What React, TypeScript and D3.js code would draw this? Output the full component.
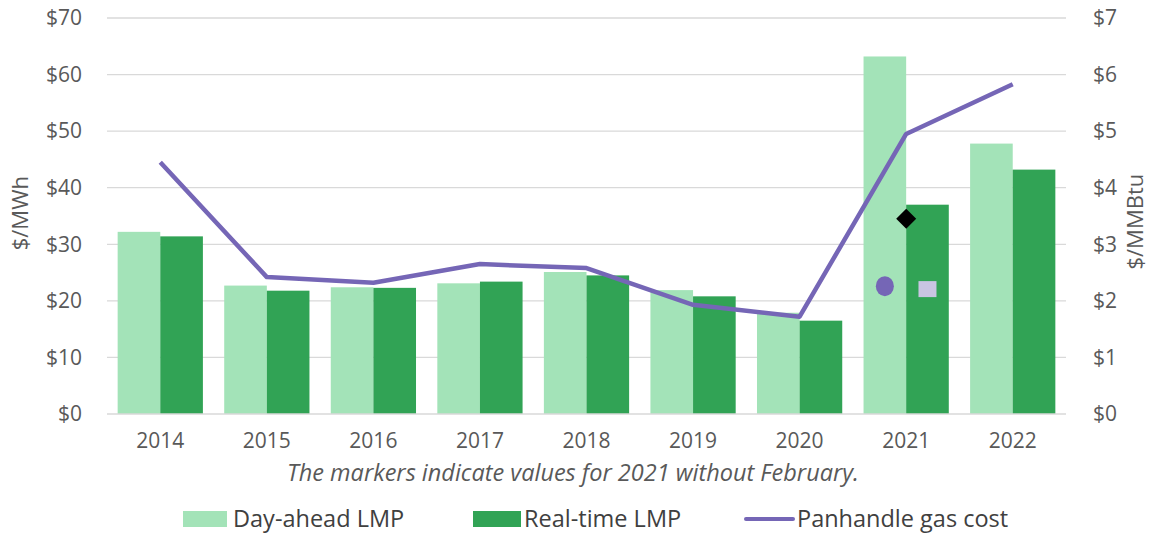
import React, { useEffect, useRef } from 'react';
import * as d3 from 'd3';

const years = ['2014', '2015', '2016', '2017', '2018', '2019', '2020', '2021', '2022'];
const dayAhead = [32.2, 22.7, 22.4, 23.1, 25.1, 21.9, 17.9, 63.2, 47.8];
const realTime = [31.4, 21.8, 22.3, 23.4, 24.5, 20.8, 16.5, 37.0, 43.2];
const gasCost = [4.45, 2.42, 2.32, 2.65, 2.58, 1.93, 1.72, 4.95, 5.83];

// 2021 values without February
const markerYear = '2021';
const dayAheadNoFeb = 22.6;
const realTimeNoFeb = 21.9;
const gasNoFeb = 3.45;

const leftTicks = [0, 10, 20, 30, 40, 50, 60, 70];
const rightTicks = [0, 1, 2, 3, 4, 5, 6, 7];

const W = 1155;
const H = 535;
const margin = { top: 18, right: 89, bottom: 121, left: 107 };
const FONT = '"Open Sans", "Noto Sans", sans-serif';

const App = () => {
  const svgRef = useRef<SVGSVGElement>(null);

  useEffect(() => {
    const svg = d3.select(svgRef.current);
    svg.selectAll('*').remove();

    const innerW = W - margin.left - margin.right;
    const innerH = H - margin.top - margin.bottom;

    const x = d3.scaleBand().domain(years).range([0, innerW]).paddingInner(0.2).paddingOuter(0.1);
    const sub = d3.scaleBand().domain(['da', 'rt']).range([0, x.bandwidth()]);
    const yL = d3.scaleLinear().domain([0, 70]).range([innerH, 0]);
    const yR = d3.scaleLinear().domain([0, 7]).range([innerH, 0]);

    const g = svg.append('g').attr('transform', `translate(${margin.left},${margin.top})`);

    // gridlines
    g.selectAll('.grid')
      .data(leftTicks.slice(1))
      .join('line')
      .attr('x1', 0)
      .attr('x2', innerW)
      .attr('y1', d => yL(d))
      .attr('y2', d => yL(d))
      .attr('stroke', '#d9d9d9')
      .attr('stroke-width', 1.3);

    // bars
    g.selectAll('.da')
      .data(years)
      .join('rect')
      .attr('x', d => x(d)! + sub('da')!)
      .attr('y', (d, i) => yL(dayAhead[i]))
      .attr('width', sub.bandwidth())
      .attr('height', (d, i) => innerH - yL(dayAhead[i]))
      .attr('fill', '#a3e3b8');

    g.selectAll('.rt')
      .data(years)
      .join('rect')
      .attr('x', d => x(d)! + sub('rt')!)
      .attr('y', (d, i) => yL(realTime[i]))
      .attr('width', sub.bandwidth())
      .attr('height', (d, i) => innerH - yL(realTime[i]))
      .attr('fill', '#31a355');

    // baseline
    g.append('line')
      .attr('x1', 0)
      .attr('x2', innerW)
      .attr('y1', innerH)
      .attr('y2', innerH)
      .attr('stroke', '#d9d9d9')
      .attr('stroke-width', 1.5);

    // gas line
    const line = d3.line<number>()
      .x((d, i) => x(years[i])! + x.bandwidth() / 2)
      .y(d => yR(d));
    g.append('path')
      .datum(gasCost)
      .attr('d', line)
      .attr('fill', 'none')
      .attr('stroke', '#7566b6')
      .attr('stroke-width', 4.5)
      .attr('stroke-linejoin', 'round');

    // 2021 markers
    const mx = x(markerYear)!;
    g.append('ellipse')
      .attr('cx', mx + sub('da')! + sub.bandwidth() / 2)
      .attr('cy', yL(dayAheadNoFeb))
      .attr('rx', 9)
      .attr('ry', 10)
      .attr('fill', '#7566b6');
    g.append('rect')
      .attr('x', mx + sub('rt')! + sub.bandwidth() / 2 - 9)
      .attr('y', yL(realTimeNoFeb) - 9)
      .attr('width', 18)
      .attr('height', 16)
      .attr('fill', '#c9c5e2');
    const dx = mx + x.bandwidth() / 2;
    const dy = yR(gasNoFeb);
    g.append('path')
      .attr('d', `M${dx},${dy - 10}L${dx + 10},${dy}L${dx},${dy + 10}L${dx - 10},${dy}Z`)
      .attr('fill', '#000');

    // axes labels
    const textStyle = (size: number) => (sel: any) =>
      sel.attr('font-family', FONT).attr('font-size', size).attr('fill', '#595959');

    g.selectAll('.lt')
      .data(leftTicks)
      .join('text')
      .attr('x', -25)
      .attr('y', d => yL(d))
      .attr('dy', '0.35em')
      .attr('text-anchor', 'end')
      .text(d => `$${d}`)
      .call(textStyle(21));

    g.selectAll('.rtk')
      .data(rightTicks)
      .join('text')
      .attr('x', innerW + 27)
      .attr('y', d => yR(d))
      .attr('dy', '0.35em')
      .attr('text-anchor', 'start')
      .text(d => `$${d}`)
      .call(textStyle(21));

    g.selectAll('.xt')
      .data(years)
      .join('text')
      .attr('x', d => x(d)! + x.bandwidth() / 2)
      .attr('y', innerH + 27)
      .attr('dy', '0.35em')
      .attr('text-anchor', 'middle')
      .text(d => d)
      .call(textStyle(21));

    svg.append('text')
      .attr('transform', `translate(28,${margin.top + yL(35.5)}) rotate(-90)`)
      .attr('text-anchor', 'middle')
      .text('$/MWh')
      .call(textStyle(22));

    svg.append('text')
      .attr('transform', `translate(1143,${margin.top + yR(3.4)}) rotate(-90)`)
      .attr('text-anchor', 'middle')
      .text('$/MMBtu')
      .call(textStyle(22));

    svg.append('text')
      .attr('x', 573)
      .attr('y', 481)
      .attr('text-anchor', 'middle')
      .attr('font-style', 'italic')
      .text('The markers indicate values for 2021 without February.')
      .call(textStyle(23.5));

    // legend
    const leg = svg.append('g').attr('font-family', FONT).attr('font-size', 23.5).attr('fill', '#404040');
    leg.append('rect').attr('x', 183).attr('y', 511).attr('width', 44).attr('height', 16).attr('fill', '#a3e3b8');
    leg.append('text').attr('x', 233).attr('y', 519).attr('dy', '0.35em').text('Day-ahead LMP');
    leg.append('rect').attr('x', 473).attr('y', 511).attr('width', 48).attr('height', 16).attr('fill', '#31a355');
    leg.append('text').attr('x', 524).attr('y', 519).attr('dy', '0.35em').text('Real-time LMP');
    leg.append('line').attr('x1', 746).attr('x2', 793).attr('y1', 519).attr('y2', 519)
      .attr('stroke', '#7566b6').attr('stroke-width', 4).attr('stroke-linecap', 'round');
    leg.append('text').attr('x', 797).attr('y', 519).attr('dy', '0.35em').text('Panhandle gas cost');
  }, []);

  return <svg ref={svgRef} width={W} height={H} style={{ position: 'absolute', left: 0, top: 0 }} />;
};

export default App;
